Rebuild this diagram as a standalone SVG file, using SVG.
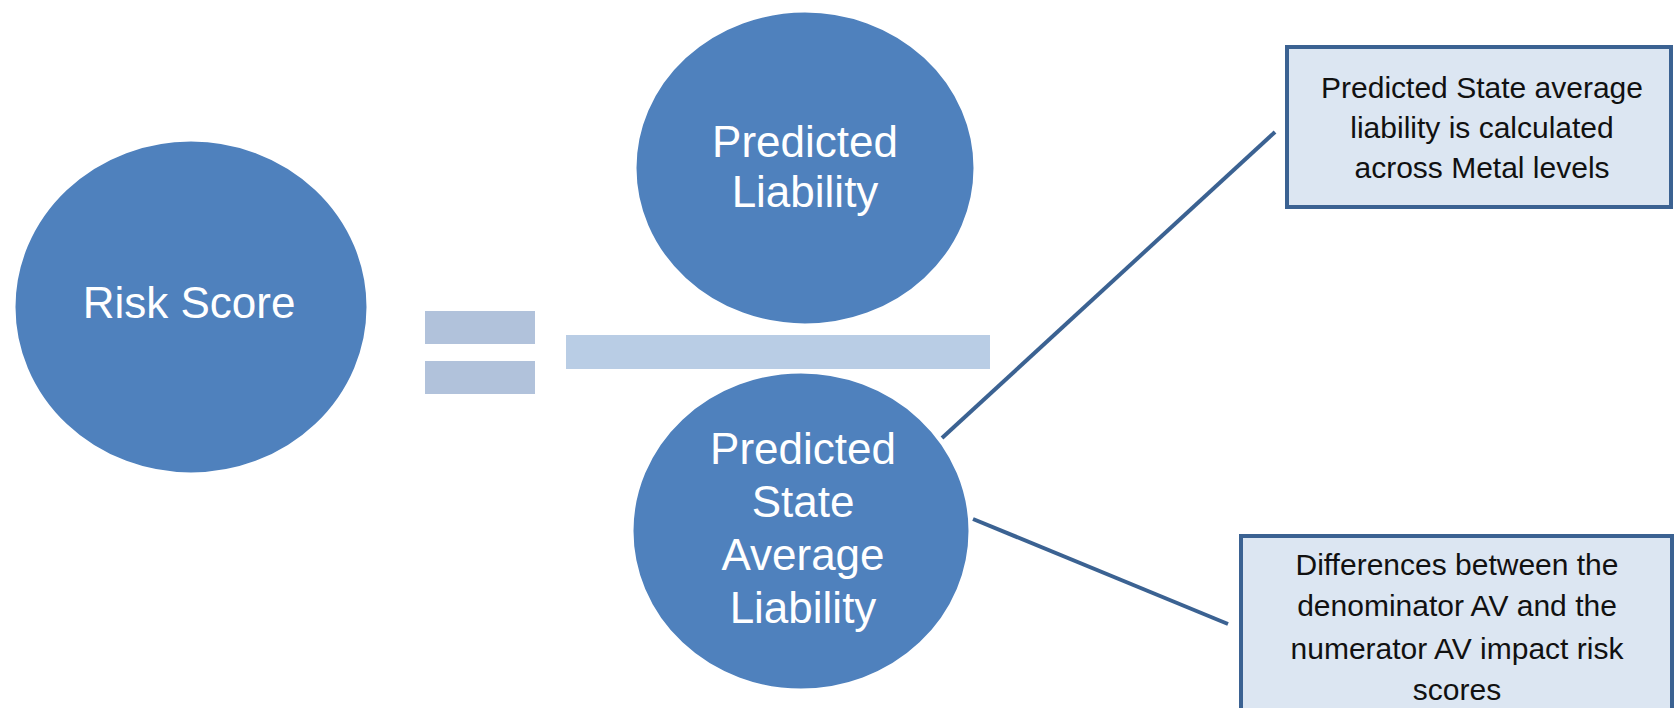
<svg xmlns="http://www.w3.org/2000/svg" width="1674" height="708" viewBox="0 0 1674 708">
<style>
.circ{fill:#4F81BD;stroke:#ffffff;stroke-width:3}
.ct{font-family:"Liberation Sans",Arial,sans-serif;font-size:44px;fill:#ffffff;text-anchor:middle}
.box{fill:#DCE6F2;stroke:#3B6292;stroke-width:4}
.bt{font-family:"Liberation Sans",Arial,sans-serif;font-size:30px;fill:#111111;text-anchor:middle}
.conn{stroke:#3B6292;stroke-width:4;fill:none}
</style>
<rect width="1674" height="708" fill="#ffffff"/>
<g id="connectors">
<line class="conn" x1="942" y1="438" x2="1275" y2="132"/>
<line class="conn" x1="973" y1="519" x2="1228" y2="624"/>
</g>
<g id="equals">
<rect x="425" y="311" width="110" height="33" fill="#B1C2DB"/>
<rect x="425" y="361" width="110" height="33" fill="#B1C2DB"/>
</g>
<g id="fraction-bar">
<rect x="566" y="335" width="424" height="34" fill="#B9CDE5"/>
</g>
<g id="risk-score">
<ellipse class="circ" cx="191" cy="307" rx="177" ry="167"/>
<text class="ct" x="189" y="318">Risk Score</text>
</g>
<g id="predicted-liability">
<ellipse class="circ" cx="805" cy="168" rx="170" ry="157"/>
<text class="ct" x="805" y="157">Predicted</text>
<text class="ct" x="805" y="207">Liability</text>
</g>
<g id="predicted-state-average-liability">
<ellipse class="circ" cx="801" cy="531" rx="169" ry="159"/>
<text class="ct" x="803" y="464">Predicted</text>
<text class="ct" x="803" y="517">State</text>
<text class="ct" x="803" y="570">Average</text>
<text class="ct" x="803" y="623">Liability</text>
</g>
<g id="note-top">
<rect class="box" x="1287" y="47" width="384" height="160"/>
<text class="bt" x="1482" y="98">Predicted State average</text>
<text class="bt" x="1482" y="138">liability is calculated</text>
<text class="bt" x="1482" y="178">across Metal levels</text>
</g>
<g id="note-bottom">
<rect class="box" x="1241" y="536" width="431" height="190"/>
<text class="bt" x="1457" y="575">Differences between the</text>
<text class="bt" x="1457" y="616">denominator AV and the</text>
<text class="bt" x="1457" y="659">numerator AV impact risk</text>
<text class="bt" x="1457" y="700">scores</text>
</g>
</svg>
